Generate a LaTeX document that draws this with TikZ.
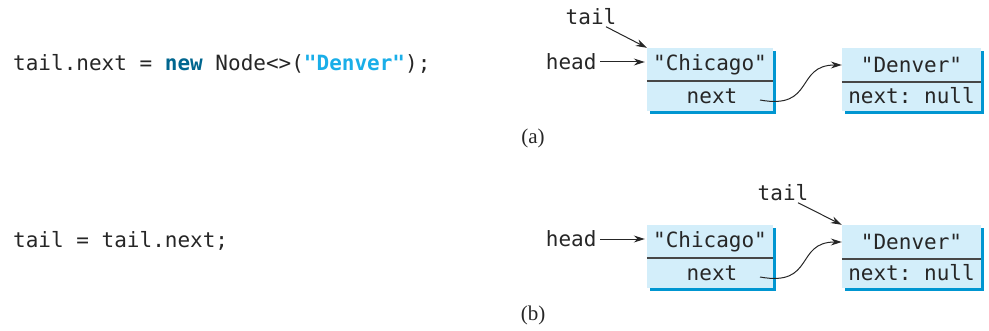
\documentclass[tikz,border=0pt]{standalone}
\usepackage{fontspec}
\setmonofont{DejaVu Sans Mono}
\newfontfamily\capfont{Liberation Serif}
\usetikzlibrary{arrows.meta,shadows,calc}
\definecolor{cellfill}{HTML}{D3EEFA}
\definecolor{cellshade}{HTML}{0096D1}
\definecolor{keyblue}{HTML}{00668F}
\definecolor{strblue}{HTML}{1AAEE8}
\definecolor{inkgrey}{HTML}{262626}
\tikzset{every node/.style={font=\ttfamily\fontsize{21}{25}\selectfont,text=inkgrey},
  cell/.style={fill=cellfill,inner sep=0pt,minimum height=63pt,
    drop shadow={shadow xshift=3pt,shadow yshift=-3pt,fill=cellshade,opacity=1}},
  divider/.style={draw=inkgrey!85,line width=1.1pt},
  ptr/.style={draw=inkgrey,line width=1pt,-{Stealth[length=11pt,width=7pt]}},
  caption/.style={font=\capfont\fontsize{21}{24}\selectfont}}

\begin{document}
\begin{tikzpicture}[x=1pt,y=1pt]
  \path[use as bounding box] (0,0) rectangle (989,330);
  % statements
  \node[anchor=west,inner sep=0pt] (code-a) at (13,266)
    {tail.next = \textbf{\textcolor{keyblue}{new}} Node<>(\textbf{\textcolor{strblue}{"Denver"}});};
  \node[anchor=west,inner sep=0pt] (code-b) at (13,89) {tail = tail.next;};
  % the two lists
  \foreach \r/\dy/\tx/\ty/\tgt in {a/0/591/313/chi,b/-177/783/314/den} {
    \begin{scope}[yshift=\dy pt]
      \node[cell,minimum width=126pt] (chi-\r) at (710,250.5) {};
      \node[cell,minimum width=139pt] (den-\r) at (911.5,250.5) {};
      \draw[divider] ($(chi-\r.west)+(0,-1.5)$) -- ($(chi-\r.east)+(0,-1.5)$);
      \draw[divider] ($(den-\r.west)+(0,-2.5)$) -- ($(den-\r.east)+(0,-2.5)$);
      \node (chi-\r-val) at (710,265.5) {"Chicago"};
      \node (chi-\r-next) at (712,234) {next};
      \node (den-\r-val) at (911.5,265) {"Denver"};
      \node (den-\r-next) at (911.5,234) {next: null};
      \node[anchor=east] (head-\r) at (600,268) {head};
      \draw[ptr,shorten >=2pt] (head-\r) -- (head-\r -| chi-\r.west);
      \node (tail-\r) at (\tx,\ty) {tail};
      \draw[ptr] ([xshift=15pt,yshift=2pt]tail-\r.south) -- (\tgt-\r.north west);
      \coordinate (link-\r) at (760,230);
      \draw[ptr] (link-\r) .. controls (815,220) and (795,265) .. (den-\r-val.west -| den-\r.west);
      \node[caption] (cap-\r) at (533,192) {(\r)};
    \end{scope}
  }
\end{tikzpicture}
\end{document}
